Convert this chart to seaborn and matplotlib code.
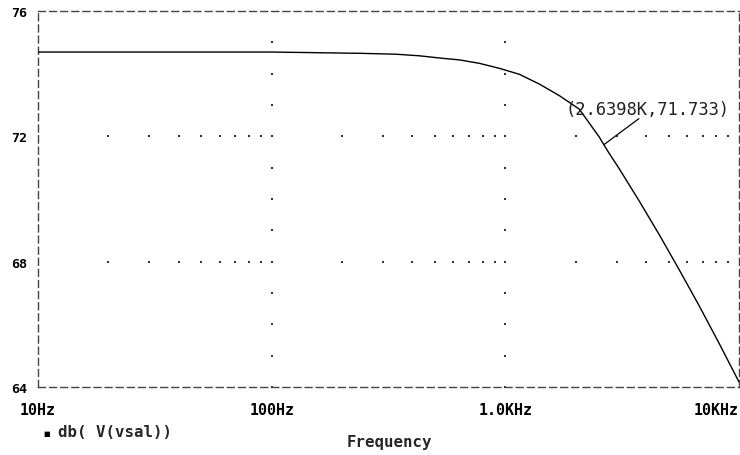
import numpy as np
import pandas as pd
import matplotlib
matplotlib.use("Agg")
import matplotlib.pyplot as plt
import seaborn as sns

# ---- data ----
freq_hz = [10, 100, 238, 342, 429, 538, 636, 774, 943, 1148, 1397, 1701, 2071,
           2522, 2640, 2781, 3070, 3738, 4550, 5540, 6745, 8212, 10000]
gain_db = [74.69, 74.69, 74.65, 74.62, 74.57, 74.49, 74.44, 74.33, 74.17, 73.98,
           73.67, 73.30, 72.87, 71.98, 71.733, 71.46, 70.97, 69.94, 68.87, 67.75,
           66.60, 65.40, 64.16]
x_ticks = [10, 100, 1000, 10000]
x_tick_labels = ["10Hz", "100Hz", "1.0KHz", "10KHz"]
y_ticks = [64, 68, 72, 76]
y_tick_labels = ["64", "68", "72", "76"]
cursor_f = 2639.8
cursor_db = 71.733
cursor_label = "(2.6398K,71.733)"
trace_name = "db( V(vsal))"
x_title = "Frequency"

sns.set_theme(style="white")
plt.rcParams["font.family"] = ["DejaVu Sans Mono", "DejaVu Sans"]

fig = plt.figure(figsize=(7.4, 4.56), dpi=100)
ax = fig.add_axes([38 / 740, 1 - 388 / 456, 701 / 740, (388 - 12) / 456])

df = pd.DataFrame({"f": freq_hz, "db": gain_db})
sns.lineplot(data=df, x="f", y="db", ax=ax, color="black", linewidth=1.0, zorder=3)

ax.set_xscale("log")
ax.set_xlim(10, 10000)
ax.set_ylim(64, 76)

# dotted grid: rows at inner y ticks with dots at log minor positions,
# columns at inner decades with dots at every dB
minor_x = [k * 10 ** d for d in range(1, 4) for k in range(1, 10)]
for yv in y_ticks[1:-1]:
    ax.scatter(minor_x, [yv] * len(minor_x), s=1.2, color="#333333",
               marker="s", linewidths=0, zorder=1)
db_levels = list(range(64, 77))
for xv in x_ticks[1:-1]:
    ax.scatter([xv] * len(db_levels), db_levels, s=1.2, color="#333333",
               marker="s", linewidths=0, zorder=1)

# dashed frame
for sp in ax.spines.values():
    sp.set_visible(True)
    sp.set_color("#444444")
    sp.set_linewidth(1.0)
    sp.set_linestyle((0, (5, 3)))

ax.set_xticks(x_ticks)
ax.set_xticklabels(x_tick_labels)
ax.xaxis.set_minor_locator(matplotlib.ticker.NullLocator())
ax.set_yticks(y_ticks)
ax.set_yticklabels(y_tick_labels)
ax.tick_params(axis="x", length=0, pad=11, labelsize=10.8, colors="black")
ax.tick_params(axis="y", length=4, width=1, direction="out", pad=4,
               labelsize=9.6, colors="black", color="#444444")
for lab in ax.get_xticklabels() + ax.get_yticklabels():
    lab.set_fontweight("bold")
ax.get_xticklabels()[-1].set_ha("right")
ax.set_xlabel("")
ax.set_ylabel("")

# cursor annotation
ax.annotate("", xy=(cursor_f, cursor_db), xytext=(35, 26),
            textcoords="offset pixels",
            arrowprops=dict(arrowstyle="-", color="black", lw=0.9,
                            shrinkA=0, shrinkB=0))
ax.annotate(cursor_label, xy=(cursor_f, cursor_db), xytext=(-38, 36),
            textcoords="offset pixels", ha="left", va="center",
            fontsize=12.3, color="#222222")

# legend and axis title
fig.text(43 / 740, 1 - 434 / 456, "■", fontsize=5, color="black",
         ha="left", va="center", family=["DejaVu Sans"])
fig.text(58 / 740, 1 - 433 / 456, trace_name, fontsize=11.3,
         fontweight="bold", ha="left", va="center")
fig.text(389 / 740, 1 - 443 / 456, x_title, fontsize=11.3,
         fontweight="bold", ha="center", va="center")

fig.savefig("out.png", dpi=100)
